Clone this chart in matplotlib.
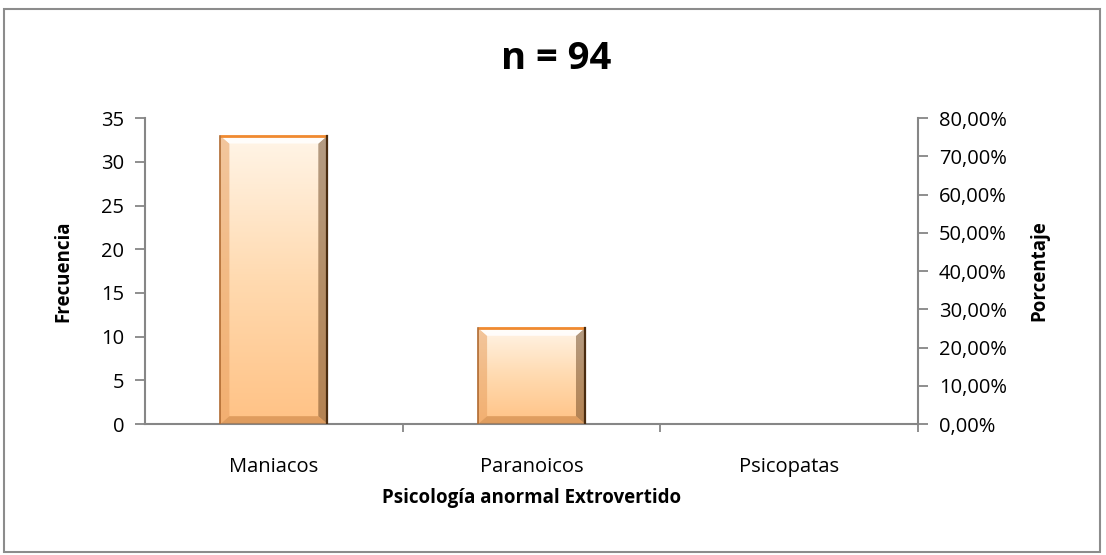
import numpy as np
import matplotlib
matplotlib.use('agg')
import matplotlib.pyplot as plt
from matplotlib.patches import Rectangle, Polygon
from matplotlib.colors import LinearSegmentedColormap

categories = ['Maniacos', 'Paranoicos', 'Psicopatas']
frecuencia = [33, 11, 0]
left_ticks = [0, 5, 10, 15, 20, 25, 30, 35]
right_ticks = [0.0, 0.1, 0.2, 0.3, 0.4, 0.5, 0.6, 0.7, 0.8]

plt.rcParams['font.family'] = ['Open Sans', 'DejaVu Sans']
axis_grey = '#868686'
fs = 14.5

fig = plt.figure(figsize=(11.06, 5.55), dpi=100)
fig.patches.append(Rectangle((0.004, 0.006), 0.991, 0.978, transform=fig.transFigure,
                             fill=False, edgecolor='#8c8c8c', linewidth=1.5))

ax = fig.add_axes([0.1311, 0.236, 0.699, 0.551])
ax2 = ax.twinx()

x = np.arange(len(categories))
width = 0.415
ax.set_xlim(-0.5, len(categories) - 0.5)
ax.set_ylim(0, 35)
ax2.set_ylim(0, 0.8)

cmap = LinearSegmentedColormap.from_list('bev', ['#ffc285', '#ffdab0', '#fff5e8'])
grad = np.linspace(0, 1, 256).reshape(-1, 1)

for xi, v in zip(x, frecuencia):
    if v <= 0:
        continue
    x0, x1 = xi - width / 2, xi + width / 2
    ax.imshow(grad, extent=[x0, x1, 0, v], origin='lower', aspect='auto', cmap=cmap, zorder=2)
    # bevel edges
    bx = 0.035
    by = 0.9
    ax.add_patch(Polygon([[x0, 0], [x0 + bx, by], [x0 + bx, v - by], [x0, v]],
                         closed=True, facecolor='#e8a060', edgecolor='none', alpha=0.55, zorder=3))
    ax.add_patch(Polygon([[x1, 0], [x1 - bx, by], [x1 - bx, v - by], [x1, v]],
                         closed=True, facecolor='#6b4420', edgecolor='none', alpha=0.5, zorder=3))
    ax.add_patch(Polygon([[x0, v], [x0 + bx, v - by], [x1 - bx, v - by], [x1, v]],
                         closed=True, facecolor='#ffffff', edgecolor='none', alpha=0.85, zorder=3))
    ax.add_patch(Polygon([[x0, 0], [x0 + bx, by], [x1 - bx, by], [x1, 0]],
                         closed=True, facecolor='#c07838', edgecolor='none', alpha=0.5, zorder=3))
    ax.plot([x0, x1], [v, v], color='#f08a30', lw=2, zorder=4, solid_capstyle='butt')
    ax.plot([x1, x1], [0, v], color='#4a2c10', lw=1.6, zorder=4)
    ax.plot([x0, x0], [0, v], color='#b06a30', lw=1.2, zorder=4)

for a in (ax, ax2):
    a.spines['top'].set_visible(False)
    for s in ('left', 'right', 'bottom'):
        a.spines[s].set_color(axis_grey)
        a.spines[s].set_linewidth(1.5)
ax.spines['right'].set_visible(False)
ax2.spines['left'].set_visible(False)
ax2.spines['bottom'].set_visible(False)

ax.set_yticks(left_ticks)
ax.set_yticklabels([str(t) for t in left_ticks])
ax2.set_yticks(right_ticks)
ax2.set_yticklabels([f'{t*100:.2f}%'.replace('.', ',') for t in right_ticks])

ax.set_xticks(x)
ax.set_xticklabels(categories)
ax.set_xticks([0.5, 1.5, 2.5], minor=True)
ax.tick_params(axis='x', which='major', length=0, pad=24, labelsize=fs)
ax.tick_params(axis='x', which='minor', length=6, width=1.3, color=axis_grey, direction='out')
ax.tick_params(axis='y', length=7, width=1.3, color=axis_grey, labelsize=fs, pad=8)
ax2.tick_params(axis='y', length=7, width=1.3, color=axis_grey, labelsize=fs, pad=8)

ax.set_ylabel('Frecuencia', fontsize=13.5, fontweight='bold', labelpad=20)
ax2.set_ylabel('Porcentaje', fontsize=13.5, fontweight='bold', rotation=90, labelpad=16)
ax.set_xlabel('Psicología anormal Extrovertido', fontsize=13.5, fontweight='bold', labelpad=8)

fig.text(0.503, 0.893, 'n = 94', ha='center', va='center', fontsize=27.5, fontweight='bold')

fig.savefig('out.png', dpi=100)
